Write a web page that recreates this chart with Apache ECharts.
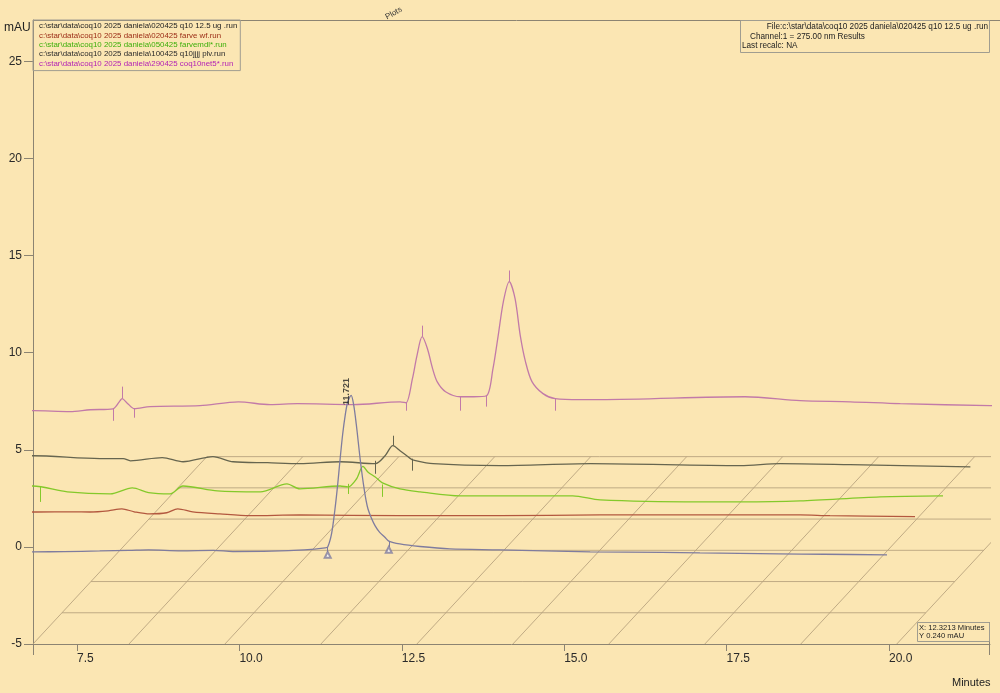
<!DOCTYPE html>
<html><head><meta charset="utf-8">
<script src="https://cdn.jsdelivr.net/npm/echarts@6/dist/echarts.min.js"></script>
<style>html,body{margin:0;padding:0;background:#fbe6b3;}#c{width:1000px;height:693px;}</style>
</head><body><div id="c"></div>
<script>
// ---- data ----
const runNames = [
  'c:\\star\\data\\coq10 2025 daniela\\020425 q10 12.5 ug .run',
  'c:\\star\\data\\coq10 2025 daniela\\020425 farve wf.run',
  'c:\\star\\data\\coq10 2025 daniela\\050425 farvemdl*.run',
  'c:\\star\\data\\coq10 2025 daniela\\100425 q10jjjj plv.run',
  'c:\\star\\data\\coq10 2025 daniela\\290425 coq10net5*.run'
];
// minutes, mAU (each run's own signal)
const run0 = [[6.80,-0.26],[7.3,-0.24],[7.85,-0.21],[8.3,-0.18],[8.6,-0.15],[9.1,-0.2],[9.6,-0.18],[9.9,-0.24],[10.5,-0.22],[11.0,-0.15],[11.32,-0.05],[11.36,0.0],[11.42,0.7],[11.47,1.9],[11.51,3.1],[11.55,4.5],[11.59,5.8],[11.63,6.8],[11.67,7.5],[11.72,7.8],[11.76,7.3],[11.80,6.3],[11.83,5.4],[11.86,4.5],[11.89,3.7],[11.92,3.0],[11.95,2.4],[11.98,1.95],[12.03,1.5],[12.09,1.08],[12.16,0.75],[12.24,0.5],[12.30,0.3],[12.47,0.15],[12.78,0.02],[13.24,-0.1],[14.0,-0.15],[15.4,-0.26],[16.5,-0.28],[17.09,-0.31],[18.3,-0.36],[19.0,-0.38],[19.97,-0.41]];
const run1 = [[6.0,0.19],[6.45,0.19],[7.0,0.2],[7.27,0.19],[7.55,0.25],[7.76,0.35],[7.95,0.2],[8.19,0.09],[8.45,0.15],[8.62,0.35],[8.85,0.2],[9.27,0.09],[9.73,0.0],[10.5,0.04],[12.04,0.0],[13.58,0.0],[15.12,0.04],[16.66,0.04],[18.2,0.04],[18.66,0.0],[19.97,-0.05]];
const run2 = [[5.44,-0.12],[5.96,-0.08],[6.49,-0.38],[7.15,-0.49],[7.49,-0.18],[7.74,-0.42],[8.07,-0.49],[8.27,-0.08],[8.80,-0.33],[9.46,-0.38],[9.87,0.03],[10.07,-0.23],[10.69,-0.08],[10.81,-0.13],[10.94,0.28],[11.04,0.93],[11.12,0.63],[11.23,0.38],[11.34,0.08],[11.61,-0.23],[11.92,-0.38],[12.54,-0.59],[14.27,-0.59],[14.69,-0.80],[16.23,-0.90],[16.85,-0.90],[17.77,-0.85],[19.00,-0.64],[19.97,-0.59]];
const run3 = [[5.01,-0.13],[5.53,-0.13],[6.56,-0.28],[6.92,-0.28],[7.03,-0.39],[7.52,-0.23],[7.84,-0.44],[8.30,-0.18],[8.61,-0.44],[9.14,-0.49],[9.64,-0.54],[10.26,-0.44],[10.80,-0.54],[10.95,-0.13],[11.07,0.39],[11.18,0.13],[11.34,-0.28],[11.37,-0.34],[11.69,-0.54],[12.72,-0.64],[14.11,-0.54],[16.42,-0.64],[17.03,-0.54],[18.11,-0.59],[19.96,-0.70]];
const run4 = [[4.58,0.57],[5.10,0.58],[5.67,0.53],[5.98,0.63],[6.33,0.68],[6.44,1.10],[6.47,1.20],[6.55,0.97],[6.66,0.68],[6.90,0.79],[7.67,0.84],[8.26,1.04],[8.75,0.89],[9.17,0.94],[10.03,0.89],[10.75,1.04],[10.84,0.99],[10.94,2.23],[11.01,3.42],[11.09,4.39],[11.17,3.78],[11.25,2.75],[11.32,2.08],[11.45,1.56],[11.68,1.30],[11.88,1.30],[12.08,1.35],[12.18,2.75],[12.26,4.45],[12.34,6.20],[12.43,7.23],[12.52,6.35],[12.60,4.45],[12.68,3.11],[12.78,2.08],[12.95,1.46],[13.14,1.20],[13.52,1.15],[13.83,1.15],[16.06,1.30],[16.91,1.10],[17.68,1.04],[18.45,0.94],[19.83,0.84],[19.97,0.83]];
// peak start/end/apex marks: [minutes, from mAU, to mAU]
const marks0 = [[11.36,0.0,-0.26],[12.30,0.3,0.0]];
const marks1 = [];
const marks2 = [[6.07,-0.1,-0.9],[10.81,0.03,-0.49],[11.34,0.0,-0.64]];
const marks3 = [[10.80,-0.39,-1.06],[11.07,0.39,0.90],[11.37,-0.28,-0.9]];
const marks4 = [[6.33,0.68,0.06],[6.47,1.20,1.82],[6.66,0.68,0.22],[10.84,0.99,0.58],[11.09,4.39,4.96],[11.68,1.30,0.58],[12.08,1.35,0.79],[12.43,7.23,7.80],[13.14,1.20,0.58]];
const baseMarks0 = [[11.36,-0.41],[12.30,-0.15]];
const peakLabel = [11.721, 7.8, '11.721'];
const xTickLabels = [7.5, 10.0, 12.5, 15.0, 17.5, 20.0];
const yTickLabels = [-5, 0, 5, 10, 15, 20, 25];

// ---- layout / style ----
const runs = [run0, run1, run2, run3, run4];
const marks = [marks0, marks1, marks2, marks3, marks4];
const traceColors = ['#7f7c9e', '#b3583f', '#84c92a', '#66654f', '#c27aa8'];
const legendColors = ['#222222', '#9a2a14', '#3caf0a', '#2a2a2a', '#b21fb4'];
const DX = 0.431, DY = 1.608;           // offset per run (depth)
const FDX = 0.446, FDY = 1.608;         // floor grid offset per depth
const X0 = 6.823, X1 = 21.555, Y0 = -5, Y1 = 27.13;
const FLOOR_END = 20.12, FLOOR_COLS = 10, FLOOR_ROWS = 7;
const FLOOR_STEP = (FLOOR_END - X0) / (FLOOR_COLS - 1);
const floorColor = '#b9a47f';
const FONT = 'Liberation Sans, Arial, sans-serif';

const series = [];
for (let j = 1; j < FLOOR_ROWS; j++) {
  series.push({type: 'line', silent: true, symbol: 'none', z: 1, animation: false,
    lineStyle: {color: floorColor, width: 0.9},
    data: [[X0 + j*FDX, Y0 + j*FDY], [FLOOR_END + j*FDX, Y0 + j*FDY]]});
}
for (let i = 0; i < FLOOR_COLS; i++) {
  const xs = X0 + i*FLOOR_STEP;
  series.push({type: 'line', silent: true, symbol: 'none', z: 1, animation: false,
    lineStyle: {color: floorColor, width: 0.9},
    data: [[xs, Y0], [xs + (FLOOR_ROWS-1)*FDX, Y0 + (FLOOR_ROWS-1)*FDY]]});
}
for (let k = runs.length - 1; k >= 0; k--) {
  const ox = k*DX, oy = k*DY;
  series.push({
    name: runNames[k], type: 'line', symbol: 'none', z: 10 - k, animation: false,
    smooth: 0.3,
    color: traceColors[k],
    lineStyle: {color: traceColors[k], width: 1.3},
    data: runs[k].map(p => [p[0] + ox, p[1] + oy]),
    markLine: {silent: true, symbol: ['none','none'], animation: false,
      label: {show: false}, lineStyle: {type: 'solid', width: 1, color: traceColors[k]},
      data: marks[k].map(m => [{coord: [m[0]+ox, m[1]+oy]}, {coord: [m[0]+ox, m[2]+oy]}])}
  });
}
series.push({type: 'scatter', silent: true, z: 12, animation: false, symbol: 'emptyTriangle', symbolSize: 6,
  itemStyle: {color: traceColors[0], borderColor: traceColors[0]}, data: baseMarks0});
series.push({type: 'scatter', silent: true, z: 12, animation: false, symbolSize: 0,
  label: {show: true, position: 'top', distance: 4, rotate: 90, formatter: () => peakLabel[2],
    fontSize: 9, fontWeight: 'bold', color: '#222', fontFamily: FONT},
  data: [[peakLabel[0], peakLabel[1]]]});

const chart = echarts.init(document.getElementById('c'), null, {renderer: 'canvas'});
chart.setOption({
  backgroundColor: '#fbe6b3',
  animation: false,
  grid: {left: 33, right: 10, top: 20, bottom: 49},
  xAxis: {type: 'value', min: X0, max: X1,
    axisLine: {onZero: false, lineStyle: {color: '#8c8472', width: 1}},
    axisTick: {customValues: xTickLabels, length: 7, lineStyle: {color: '#8c8472'}},
    axisLabel: {customValues: xTickLabels, formatter: v => v.toFixed(1), align: 'left', margin: 9,
      fontSize: 12, color: '#2a2a2a', fontFamily: FONT},
    splitLine: {show: false}},
  yAxis: {type: 'value', min: Y0, max: Y1,
    axisLine: {show: true, onZero: false, lineStyle: {color: '#8c8472', width: 1}},
    axisTick: {show: true, customValues: yTickLabels, length: 9, lineStyle: {color: '#8c8472'}},
    axisLabel: {customValues: yTickLabels, margin: 11, fontSize: 12, color: '#2a2a2a', fontFamily: FONT},
    splitLine: {show: false}},
  legend: {left: 33, top: 20, orient: 'vertical', itemWidth: 0, itemHeight: 0, itemGap: 1.4,
    padding: [2, 3, 3, 0], borderColor: '#a09d90', borderWidth: 1, selectedMode: false,
    textStyle: {fontSize: 7.9, fontFamily: FONT},
    data: runNames.map((n, i) => ({name: n, textStyle: {color: legendColors[i]}}))},
  graphic: [
    {type: 'line', silent: true, shape: {x1: 33, y1: 20.5, x2: 1000, y2: 20.5}, style: {stroke: '#8c8472', lineWidth: 1}},
    {type: 'line', silent: true, shape: {x1: 33.5, y1: 643, x2: 33.5, y2: 655}, style: {stroke: '#8c8472', lineWidth: 1}},
    {type: 'line', silent: true, shape: {x1: 989.5, y1: 622, x2: 989.5, y2: 655}, style: {stroke: '#8c8472', lineWidth: 1}},
    {type: 'text', silent: true, left: 4, top: 22, style: {text: 'mAU', fontSize: 12, fill: '#222', fontFamily: FONT}},
    {type: 'text', silent: true, left: 952, top: 677, style: {text: 'Minutes', fontSize: 11, fill: '#222', fontFamily: FONT}},
    {type: 'text', silent: true, x: 384, y: 14, rotation: 0.5, style: {text: 'Plots', fontSize: 8, fill: '#333', fontFamily: FONT}},
    {type: 'rect', silent: true, shape: {x: 740.5, y: 20.5, width: 249, height: 32}, style: {fill: 'none', stroke: '#a09d90', lineWidth: 1}},
    {type: 'text', silent: true, x: 988, y: 23, style: {text: 'File:c:\\star\\data\\coq10 2025 daniela\\020425 q10 12.5 ug .run', align: 'right', fontSize: 8.2, fill: '#222', fontFamily: FONT}},
    {type: 'text', silent: true, x: 750, y: 33, style: {text: 'Channel:1 = 275.00 nm Results', fontSize: 8.2, fill: '#222', fontFamily: FONT}},
    {type: 'text', silent: true, x: 742, y: 42, style: {text: 'Last recalc: NA', fontSize: 8.2, fill: '#222', fontFamily: FONT}},
    {type: 'rect', silent: true, shape: {x: 917.5, y: 622.5, width: 72, height: 19}, style: {fill: 'none', stroke: '#a09d90', lineWidth: 1}},
    {type: 'text', silent: true, x: 919, y: 624, style: {text: 'X: 12.3213 Minutes', fontSize: 7.6, fill: '#222', fontFamily: FONT}},
    {type: 'text', silent: true, x: 919, y: 632, style: {text: 'Y 0.240 mAU', fontSize: 7.6, fill: '#222', fontFamily: FONT}}
  ],
  series: series
});
</script></body></html>
